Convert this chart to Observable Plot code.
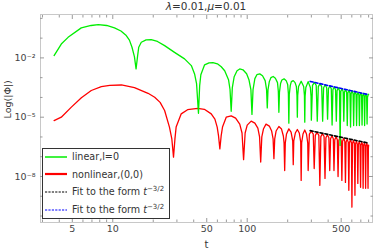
<!DOCTYPE html>
<html><head><meta charset="utf-8">
<script src="https://cdn.jsdelivr.net/npm/d3@7"></script>
<script src="https://cdn.jsdelivr.net/npm/@observablehq/plot@0.6"></script>
<style>
body{margin:0;background:#fff;font-family:"DejaVu Sans",sans-serif;}
#wrap{position:relative;width:374px;height:251px;overflow:hidden;}
#title{position:absolute;top:0;left:40px;width:332px;text-align:center;font-size:10.5px;color:#333;line-height:13px;}
#legend{position:absolute;left:42px;top:148px;width:128px;height:71px;box-sizing:border-box;border:1.5px solid #333;background:#fff;}
.row{position:absolute;left:1px;height:14px;display:flex;align-items:center;font-size:9.6px;color:#333;white-space:nowrap;}
.row svg{margin-right:5px;}
.row sup{font-size:7px;vertical-align:4px;line-height:0;}
</style></head><body>
<div id="wrap"><div id="chart"></div>
<div id="title"><i>λ</i>=0.01,<i>μ</i>=0.01</div>
<div id="legend"></div>
</div>
<script>
// ---- data (t, log10|Φ|) ----
const linearT = [
 3.66,4.14,4.65,5.83,6.9,7.8,9.0,10.3,11.5,12.6,13.3,13.9,14.5,14.9,15.3,15.6,16.3,17.7,19.3,21.5,
 24.3,28.8,34.2,38.4,40.6,42.0,43.4,44.3,45.2,48.2,52,55.6,60,64.1,68,72.6,74.5,76,77.5,80,
 84,88,93,99,103,106.5,108.5,110.5,114,118,124,130,136,139.3,141,142.8,146,150,156,162,
 168,170.4,172,173.7,177,181,188,195,200,202.4,204,205.6,209,213,220,227,232,234.5,236,237.5,
 241,252,263,266.5,268,269.5,273,284,295,298.5,300,306,316,326,332,338,348,358,364,370,
 380,390,396,402,412,422,428,434,444,454,460,466,476,486,491,497,507,517,523,529,
 539,549,555,561,571,581,587,593,603,613,619,625,635,645,651,657,667,677,683,689,
 699,709,715,721,731,741,747,753,763,773,779,785,795,800];
const linearLog10Phi = [
 -1.88,-1.3,-0.96,-0.48,-0.36,-0.32,-0.36,-0.48,-0.64,-0.87,-1.1,-1.46,-1.95,-2.56,-1.9,-1.46,-1.21,-1.09,-1.08,-1.17,
 -1.38,-1.72,-2.05,-2.39,-2.81,-3.3,-4.8,-3.4,-2.85,-2.35,-2.25,-2.24,-2.3,-2.45,-2.65,-3.1,-3.6,-4.7,-3.5,-2.95,
 -2.65,-2.56,-2.6,-2.8,-3.1,-3.6,-4.86,-3.6,-3.05,-2.85,-2.81,-2.9,-3.15,-3.6,-4.53,-3.6,-3.2,-3.0,-2.94,-3.03,
 -3.25,-3.7,-4.75,-3.75,-3.3,-3.12,-3.06,-3.15,-3.35,-3.8,-5.3,-3.85,-3.4,-3.2,-3.15,-3.25,-3.45,-3.9,-5.0,-3.9,
 -3.45,-3.18,-3.45,-3.9,-5.25,-3.95,-3.5,-3.2,-3.5,-3.95,-5.15,-3.39,-3.24,-3.39,-5.2,-3.45,-3.3,-3.45,-5.2,-3.51,
 -3.36,-3.51,-5.1,-3.56,-3.41,-3.56,-5.4,-3.61,-3.46,-3.61,-5.2,-3.66,-3.51,-3.66,-6.43,-3.7,-3.55,-3.7,-5.2,-3.74,
 -3.59,-3.74,-5.42,-3.78,-3.63,-3.78,-5.5,-3.81,-3.66,-3.81,-5.42,-3.85,-3.7,-3.85,-5.42,-3.88,-3.73,-3.88,-5.42,-3.91,
 -3.76,-3.91,-5.4,-3.94,-3.79,-3.94,-5.42,-3.96,-3.81,-3.96,-5.35,-3.99,-3.84,-3.86];

const nonlinearT = [
 3.66,4.14,4.92,5.84,6.92,8.22,9.5,11.6,14.5,18.3,20.5,22.5,24.3,26.4,27.5,28.3,29.0,29.6,32.3,36,
 42.9,48,54,57.5,59.8,61.2,62.6,64,65.5,69.8,76,82,88,91.5,94,96.5,100,107,114,120,
 123.6,126,128.4,132,138,146,152,155.8,158,160.2,164,172,180,185.7,188,190,192,196,204,212,
 218,220,222,228,236,244,250,252,254,260,268,276,282,284,290,300,310,315,321,331,
 341,347,353,363,373,379,385,395,405,411,417,427,437,442,448,458,468,474,480,490,
 500,506,512,522,532,538,544,554,564,570,576,586,596,601,607,617,627,633,639,649,
 659,665,671,681,691,697,703,713,723,728,734,744,754,760,766,776,786,792,797,800];
const nonlinearLog10Phi = [
 -5.17,-5.0,-4.49,-4.02,-3.65,-3.45,-3.39,-3.37,-3.5,-3.79,-3.99,-4.25,-4.66,-5.5,-6.1,-7.02,-6.1,-5.5,-4.83,-4.62,
 -4.55,-4.6,-4.83,-5.1,-5.5,-5.95,-6.6,-5.95,-5.5,-5.0,-4.93,-5.05,-5.35,-5.8,-7.15,-5.8,-5.4,-5.2,-5.3,-5.55,
 -6.0,-7.27,-6.0,-5.6,-5.35,-5.45,-5.7,-6.1,-7.1,-6.1,-5.7,-5.47,-5.6,-5.95,-6.3,-7.7,-6.3,-5.85,-5.59,-5.75,
 -6.2,-7.4,-6.2,-5.8,-5.62,-5.8,-6.25,-8.2,-6.3,-5.85,-5.65,-5.85,-6.3,-7.7,-5.86,-5.71,-5.86,-7.6,-5.92,-5.77,
 -5.92,-8.45,-5.98,-5.83,-5.98,-8.1,-6.04,-5.89,-6.04,-7.7,-6.09,-5.94,-6.09,-7.7,-6.14,-5.99,-6.14,-8.0,-6.18,-6.03,
 -6.18,-8.2,-6.22,-6.07,-6.22,-8.3,-6.26,-6.11,-6.26,-8.7,-6.29,-6.14,-6.29,-9.55,-6.33,-6.18,-6.33,-8.95,-6.36,-6.21,
 -6.36,-8.35,-6.39,-6.24,-6.39,-8.55,-6.42,-6.27,-6.42,-8.6,-6.45,-6.3,-6.45,-8.6,-6.47,-6.32,-6.47,-8.6,-6.55,-6.42];

// fit lines t^{-3/2}: endpoints
const fitT = [294, 798];
const fitNonlinearLog10Phi = [-5.68, -6.31];
const fitLinearLog10Phi = [-3.19, -3.86];

const xMajorTicks = [5, 10, 50, 100, 500];
const xTickLabels = ["5", "10", "50", "100", "500"];
const xMinorTicks = [3,4,6,7,8,9,20,30,40,60,70,80,90,200,300,400,600,700,800];
const yMajorTicks = [1e-2, 1e-5, 1e-8];
const yMajorLabels = ["10⁻²", "10⁻⁵", "10⁻⁸"];
const yMinorTicks = [1e-10,1e-9,1e-7,1e-6,1e-4,1e-3,1e-1,1];

const legendLabels = ["linear,l=0", "nonlinear,(0,0)", "Fit to the form <i>t</i><sup>−3/2</sup>", "Fit to the form <i>t</i><sup>−3/2</sup>"];
const seriesColors = ["#00ee00", "#ff0000", "#000000", "#0000ff"];

// ---- build tables ----
const toRows = (ts, es) => ts.map((t, i) => ({t, phi: Math.pow(10, es[i])}));
const linear = toRows(linearT, linearLog10Phi);
const nonlinear = toRows(nonlinearT, nonlinearLog10Phi);
const fitNonlinear = toRows(fitT, fitNonlinearLog10Phi);
const fitLinear = toRows(fitT, fitLinearLog10Phi);
const xLabelRows = xMajorTicks.map((t, i) => ({t, label: xTickLabels[i]}));
const yLabelRows = yMajorTicks.map((v, i) => ({v, label: yMajorLabels[i]}));

const tickColor = "#9a9a9a";
const plot = Plot.plot({
  width: 374, height: 251,
  marginLeft: 40, marginRight: 2, marginTop: 14, marginBottom: 29,
  style: {fontFamily: "DejaVu Sans", fontSize: "9.5px", background: "white", color: "#444"},
  x: {type: "log", domain: [2.9, 855]},
  y: {type: "log", domain: [4.7e-11, 1.57]},
  marks: [
    Plot.frame({stroke: "#c8c8c8"}),
    Plot.line(nonlinear, {x: "t", y: "phi", stroke: seriesColors[1], strokeWidth: 1.3}),
    Plot.line(linear, {x: "t", y: "phi", stroke: seriesColors[0], strokeWidth: 1.3}),
    Plot.line(fitNonlinear, {x: "t", y: "phi", stroke: seriesColors[2], strokeWidth: 1.6, strokeDasharray: "3,2"}),
    Plot.line(fitLinear, {x: "t", y: "phi", stroke: seriesColors[3], strokeWidth: 1.6, strokeDasharray: "3,2"}),
    // ticks, inward on all four sides
    Plot.axisX({anchor: "bottom", ticks: xMajorTicks, tickSize: -4, tickFormat: () => "", stroke: tickColor, label: null}),
    Plot.axisX({anchor: "bottom", ticks: xMinorTicks, tickSize: -2.5, tickFormat: () => "", stroke: tickColor, label: null}),
    Plot.axisX({anchor: "top", ticks: xMajorTicks, tickSize: -4, tickFormat: () => "", stroke: tickColor, label: null}),
    Plot.axisX({anchor: "top", ticks: xMinorTicks, tickSize: -2.5, tickFormat: () => "", stroke: tickColor, label: null}),
    Plot.axisY({anchor: "left", ticks: yMajorTicks, tickSize: -4, tickFormat: () => "", stroke: tickColor, label: null}),
    Plot.axisY({anchor: "left", ticks: yMinorTicks, tickSize: -2.5, tickFormat: () => "", stroke: tickColor, label: null}),
    Plot.axisY({anchor: "right", ticks: yMajorTicks, tickSize: -4, tickFormat: () => "", stroke: tickColor, label: null}),
    Plot.axisY({anchor: "right", ticks: yMinorTicks, tickSize: -2.5, tickFormat: () => "", stroke: tickColor, label: null}),
    // tick labels
    Plot.text(xLabelRows, {x: "t", text: "label", frameAnchor: "bottom", lineAnchor: "top", dy: 3, fill: "#444", fontSize: 9.5}),
    Plot.text(yLabelRows, {y: "v", text: "label", frameAnchor: "left", textAnchor: "end", dx: -5, fill: "#444", fontSize: 9.5}),
    Plot.text(["t"], {frameAnchor: "bottom", dy: 25, fill: "#333", fontSize: 10}),
    Plot.text(["Log(|Φ|)"], {frameAnchor: "left", dx: -33, rotate: -90, fill: "#333", fontSize: 9.5})
  ]
});
document.getElementById("chart").appendChild(plot);

// legend
const legend = document.getElementById("legend");
const rowTops = [0.5, 18, 35.5, 53.5];
legendLabels.forEach((lab, i) => {
  const row = document.createElement("div");
  row.className = "row";
  row.style.top = rowTops[i] + "px";
  const dashed = i >= 2;
  const sw = i === 1 ? 2.2 : (dashed ? 1 : 1.5);
  row.innerHTML = `<svg width="23" height="6"><line x1="1" x2="23" y1="3" y2="3" stroke="${seriesColors[i]}" stroke-width="${sw}" ${dashed ? 'stroke-dasharray="2.2,1.2"' : ''}/></svg><span>${lab}</span>`;
  legend.appendChild(row);
});
</script>
</body></html>
